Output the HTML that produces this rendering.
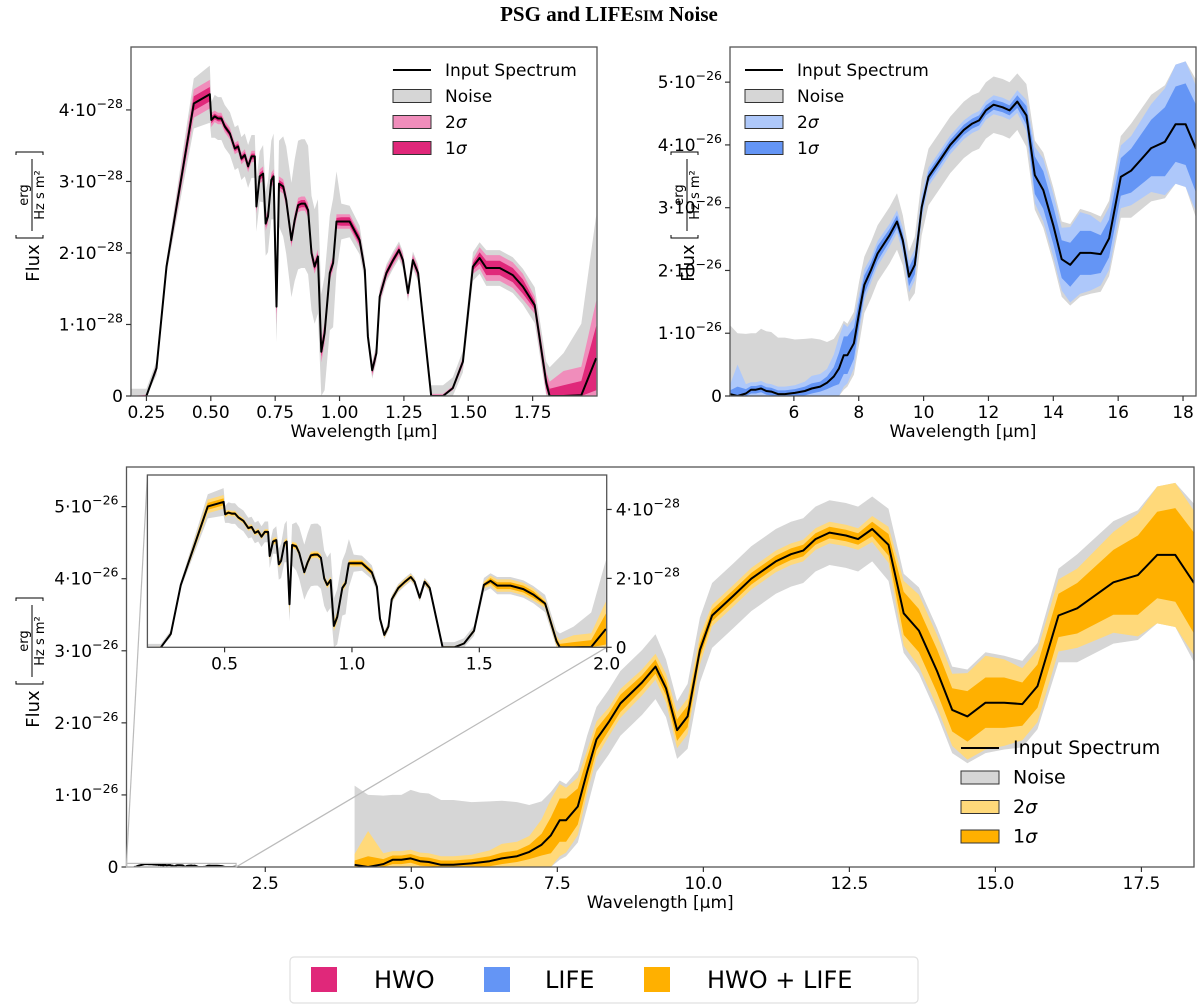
<!DOCTYPE html>
<html><head><meta charset="utf-8"><style>
html,body{margin:0;padding:0;background:#fff;}
svg{display:block;font-family:"DejaVu Sans","Liberation Sans",sans-serif;}
</style></head><body>
<svg id="fig" width="1200" height="1007" viewBox="0 0 1200 1007" xmlns="http://www.w3.org/2000/svg">
<text x="609" y="21" text-anchor="middle" font-family="Liberation Serif, serif" font-weight="bold" font-size="21">PSG and LIFE<tspan font-size="15.5">SIM</tspan> Noise</text>
<g id="legendBottom">
<rect x="290" y="957" width="628" height="46" rx="4" fill="#fff" stroke="#e0e0e0" stroke-width="1.2"/>
<rect x="311" y="967" width="26" height="25" fill="#e0287a"/>
<text x="374" y="988" font-size="24">HWO</text>
<rect x="484" y="967" width="26" height="25" fill="#6495f5"/>
<text x="545" y="988" font-size="24">LIFE</text>
<rect x="644" y="967" width="26" height="25" fill="#ffb000"/>
<text x="707" y="988" font-size="24">HWO + LIFE</text>
</g>
</svg>
<script>
// HWO spectrum (flux in 1e-28 erg/Hz/s/m2)
const hwoWl=[0.19,0.250,0.289,0.328,0.434,0.496,0.502,0.515,0.528,0.541,0.554,0.574,0.593,0.606,0.619,0.632,0.645,0.658,0.671,0.677,0.690,0.703,0.713,0.722,0.735,0.744,0.755,0.765,0.781,0.793,0.813,0.826,0.839,0.852,0.865,0.878,0.891,0.903,0.916,0.929,0.942,0.962,0.975,0.988,1.007,1.039,1.078,1.098,1.110,1.127,1.143,1.156,1.182,1.208,1.231,1.246,1.266,1.285,1.305,1.356,1.402,1.440,1.479,1.518,1.544,1.570,1.622,1.673,1.712,1.758,1.803,1.816,1.87,1.939,1.997];
const hwoFlux=[0,0,0.39,1.81,4.09,4.22,3.86,3.91,3.88,3.88,3.77,3.67,3.46,3.49,3.32,3.37,3.21,3.35,3.35,2.65,3.07,3.11,2.41,2.51,3.02,3.07,1.25,2.97,2.93,2.74,2.18,2.46,2.67,2.69,2.69,2.60,2.00,1.81,1.95,0.62,0.88,1.72,1.86,2.44,2.44,2.44,2.18,1.76,0.83,0.36,0.60,1.39,1.72,1.90,2.04,1.90,1.44,1.90,1.72,0,0,0.11,0.48,1.81,1.93,1.79,1.79,1.69,1.53,1.27,0.18,0,0,0.01,0.53];
const hwoNoise=[0.1,0.1,0.1,0.1,0.35,0.4,0.25,0.3,0.3,0.3,0.3,0.3,0.3,0.3,0.3,0.3,0.3,0.3,0.3,0.35,0.35,0.4,0.45,0.5,0.55,0.6,0.5,0.6,0.7,0.75,0.8,0.85,0.9,0.9,0.9,0.9,0.8,0.8,0.8,0.8,0.8,0.8,0.9,0.7,0.25,0.22,0.2,0.15,0.12,0.12,0.12,0.12,0.12,0.12,0.12,0.12,0.12,0.12,0.12,0.15,0.15,0.15,0.15,0.2,0.22,0.25,0.25,0.25,0.25,0.25,0.3,0.4,0.6,1.0,2.0];
const hwoSig2=[0,0.02,0.05,0.06,0.2,0.2,0.1,0.08,0.08,0.08,0.08,0.08,0.08,0.08,0.08,0.08,0.08,0.08,0.08,0.1,0.1,0.1,0.1,0.1,0.1,0.1,0.25,0.1,0.1,0.1,0.1,0.1,0.1,0.1,0.1,0.1,0.1,0.1,0.1,0.15,0.15,0.1,0.1,0.1,0.1,0.1,0.1,0.08,0.08,0.08,0.08,0.08,0.08,0.08,0.08,0.08,0.08,0.08,0.08,0.03,0.03,0.03,0.06,0.1,0.15,0.18,0.18,0.18,0.18,0.12,0.15,0.2,0.35,0.4,0.8];
const hwoSig1=[0,0.01,0.03,0.03,0.1,0.1,0.05,0.04,0.04,0.04,0.04,0.04,0.04,0.04,0.04,0.04,0.04,0.04,0.04,0.05,0.05,0.05,0.05,0.05,0.05,0.05,0.1,0.05,0.05,0.05,0.05,0.05,0.05,0.05,0.05,0.05,0.05,0.05,0.05,0.07,0.07,0.05,0.05,0.05,0.06,0.06,0.06,0.04,0.04,0.04,0.04,0.04,0.04,0.04,0.04,0.04,0.04,0.04,0.04,0.01,0.01,0.01,0.03,0.05,0.08,0.1,0.1,0.1,0.1,0.06,0.08,0.1,0.15,0.2,0.45];
// LIFE spectrum (flux in 1e-26 erg/Hz/s/m2)
const lifeWl=[4.03,4.26,4.52,4.68,4.83,4.99,5.15,5.30,5.51,5.72,6.03,6.34,6.55,6.81,7.02,7.23,7.39,7.54,7.65,7.85,8.01,8.17,8.38,8.58,8.95,9.18,9.36,9.55,9.73,9.94,10.15,10.51,10.82,11.24,11.5,11.71,11.92,12.16,12.44,12.65,12.89,13.17,13.43,13.69,14.0,14.26,14.52,14.83,15.15,15.46,15.72,16.08,16.4,17.02,17.44,17.77,18.08,18.4];
const lifeFlux=[0.03,0,0.04,0.1,0.1,0.12,0.08,0.07,0.03,0.03,0.05,0.08,0.12,0.15,0.21,0.31,0.44,0.65,0.65,0.84,1.32,1.77,2.01,2.27,2.56,2.78,2.48,1.90,2.09,3.01,3.49,3.76,4.0,4.24,4.34,4.39,4.55,4.64,4.60,4.55,4.69,4.47,3.52,3.28,2.72,2.18,2.09,2.28,2.28,2.26,2.51,3.49,3.59,3.95,4.05,4.33,4.33,3.94];
const lifeNoise=[1.1,1.0,0.95,0.9,0.9,0.95,0.95,0.95,0.9,0.9,0.85,0.83,0.8,0.75,0.65,0.6,0.6,0.55,0.5,0.5,0.5,0.45,0.45,0.45,0.45,0.45,0.4,0.4,0.45,0.45,0.45,0.45,0.45,0.45,0.45,0.45,0.45,0.45,0.45,0.45,0.45,0.5,0.55,0.6,0.6,0.6,0.65,0.7,0.65,0.6,0.6,0.65,0.75,0.85,0.9,0.95,1.0,1.1];
const lifeSig2=[0.15,0.5,0.15,0.12,0.12,0.12,0.12,0.12,0.12,0.12,0.12,0.15,0.2,0.2,0.22,0.35,0.5,0.5,0.45,0.4,0.3,0.25,0.2,0.2,0.18,0.18,0.2,0.25,0.25,0.2,0.15,0.15,0.15,0.15,0.15,0.15,0.15,0.15,0.15,0.15,0.18,0.25,0.45,0.5,0.5,0.5,0.6,0.65,0.6,0.5,0.5,0.5,0.55,0.7,0.85,0.95,1.0,1.0];
const lifeSig1=[0.06,0.15,0.07,0.06,0.06,0.06,0.06,0.06,0.06,0.06,0.06,0.07,0.08,0.08,0.1,0.15,0.25,0.3,0.3,0.25,0.2,0.15,0.12,0.12,0.1,0.1,0.1,0.15,0.15,0.1,0.08,0.08,0.08,0.08,0.08,0.08,0.08,0.08,0.08,0.08,0.1,0.15,0.3,0.3,0.3,0.3,0.35,0.35,0.35,0.3,0.3,0.3,0.35,0.45,0.55,0.6,0.65,0.7];
// Ticks
const tlXTicks=[0.25,0.50,0.75,1.00,1.25,1.50,1.75];
const tlYTicks=[0,1,2,3,4];
const trXTicks=[6,8,10,12,14,16,18];
const trYTicks=[0,1,2,3,4,5];
const btXTicks=[2.5,5.0,7.5,10.0,12.5,15.0,17.5];
const btYTicks=[0,1,2,3,4,5];
const inXTicks=[0.5,1.0,1.5,2.0];
const inYTicks=[0,2,4];

const NS="http://www.w3.org/2000/svg";
const svg=document.getElementById('fig');
const legendNode=document.getElementById('legendBottom');
function mk(tag,attrs,parent){const e=document.createElementNS(NS,tag);for(const k in attrs)e.setAttribute(k,attrs[k]);(parent||svg).insertBefore(e,parent?null:legendNode);return e;}
function axes(name,px0,px1,py0,py1,xmin,xmax,ymin,ymax){
  const a={px0,px1,py0,py1,xmin,xmax,ymin,ymax,name};
  a.x=v=>px0+(v-xmin)/(xmax-xmin)*(px1-px0);
  a.y=v=>py0-(v-ymin)/(ymax-ymin)*(py0-py1);
  const cp=mk('clipPath',{id:'clip-'+name});
  mk('rect',{x:px0,y:py1,width:px1-px0,height:py0-py1},cp);
  a.g=mk('g',{'clip-path':'url(#clip-'+name+')'});
  
  
  return a;
}
function band(a,wl,fl,w,scale,color,name){
  let up=[],lo=[];
  for(let i=0;i<wl.length;i++){
    up.push(a.x(wl[i]).toFixed(1)+','+a.y((fl[i]+w[i])*scale).toFixed(1));
    lo.push(a.x(wl[i]).toFixed(1)+','+a.y(Math.max(0,fl[i]-w[i])*scale).toFixed(1));
  }
  const p=mk('polygon',{points:up.concat(lo.reverse()).join(' '),fill:color,stroke:'none'},a.g);
  
  
}
function line(a,wl,fl,scale,name,startIdx){
  let pts=[];
  for(let i=startIdx||0;i<wl.length;i++)pts.push(a.x(wl[i]).toFixed(1)+','+a.y(fl[i]*scale).toFixed(1));
  const p=mk('polyline',{points:pts.join(' '),fill:'none',stroke:'#000','stroke-width':2,'stroke-linejoin':'round'},a.g);
  
  
}
function frame(a){
  const r=mk('rect',{x:a.px0,y:a.py1,width:a.px1-a.px0,height:a.py0-a.py1,fill:'none',stroke:'#555','stroke-width':1.3});
  
  
}
function sciLabel(x,y,m,exp,anchor,name){
  const t=mk('text',{x:x,y:y,'font-size':17,'text-anchor':anchor});
  
  
  if(m===0){t.textContent='0';return;}
  const s1=document.createElementNS(NS,'tspan');s1.textContent=m+'·10';t.appendChild(s1);
  const s2=document.createElementNS(NS,'tspan');s2.setAttribute('dy','-8');s2.setAttribute('font-size','12.5');s2.textContent='−'+exp;t.appendChild(s2);
}
function xTicks(a,ticks,dec,name){
  ticks.forEach(v=>{
    const X=a.x(v);
    const l=mk('line',{x1:X,x2:X,y1:a.py0,y2:a.py0+5,stroke:'#333','stroke-width':1.2});
    
    
    const t=mk('text',{x:X,y:a.py0+22,'font-size':17,'text-anchor':'middle'});
    
    
    t.textContent=v.toFixed(dec);
  });
}
function yTicks(a,ticks,exp,name,right){
  ticks.forEach(v=>{
    const Y=a.y(v);
    const X=right?a.px1:a.px0;
    const l=mk('line',{x1:X,x2:right?X+5:X-5,y1:Y,y2:Y,stroke:'#333','stroke-width':1.2});
    
    
    sciLabel(right?X+9:X-8,Y+6,v,exp,right?'start':'end',name+'-tick-label');
  });
}
function fluxLabel(cx,cy,name){
  const g=mk('g',{transform:'translate('+cx+','+cy+') rotate(-90)'});
  
  
  const t=mk('text',{x:-42,y:6,'font-size':18,'text-anchor':'middle'},g);t.textContent='Flux';
  mk('path',{d:'M-14,-17 h-3 v27 h3 M66,-17 h3 v27 h-3',fill:'none',stroke:'#000','stroke-width':1},g);
  const t2=mk('text',{x:26,y:-5,'font-size':13,'text-anchor':'middle'},g);t2.textContent='erg';
  mk('line',{x1:-10,x2:62,y1:-1,y2:-1,stroke:'#000','stroke-width':1},g);
  const t3=mk('text',{x:26,y:11,'font-size':13,'text-anchor':'middle'},g);t3.textContent='Hz s m²';
}
function xLabel(a,name){
  const t=mk('text',{x:(a.px0+a.px1)/2,y:a.py0+41,'font-size':17,'text-anchor':'middle'});
  
  
  t.textContent='Wavelength [µm]';
}
function legend(x,y,dy,fs,c2,c1,name){
  const g=mk('g',{});
  
  
  mk('line',{x1:x,x2:x+38,y1:y,y2:y,stroke:'#000','stroke-width':2},g);
  const cols=['#d6d6d6',c2,c1],labs=['Noise','2σ','1σ'];
  const t0=mk('text',{x:x+52,y:y+6,'font-size':fs},g);t0.textContent='Input Spectrum';
  for(let i=0;i<3;i++){
    const yy=y+dy*(i+1);
    mk('rect',{x:x,y:yy-6.5,width:38,height:13,fill:cols[i],stroke:'#333','stroke-width':1},g);
    const t=mk('text',{x:x+52,y:yy+6,'font-size':fs},g);
    if(i===0)t.textContent=labs[i];
    else{const a=document.createElementNS(NS,'tspan');a.textContent=labs[i][0];t.appendChild(a);const b=document.createElementNS(NS,'tspan');b.setAttribute('font-style','italic');b.textContent='σ';t.appendChild(b);}
  }
}

// Top-left: HWO
const tl=axes('hwo-chart',131,597,396,47,0.19,2.0,0,4.88);
band(tl,hwoWl,hwoFlux,hwoNoise,1,'#d6d6d6','hwo-noise-band');
band(tl,hwoWl,hwoFlux,hwoSig2,1,'#f08dbb','hwo-2sigma-band');
band(tl,hwoWl,hwoFlux,hwoSig1,1,'#e0287a','hwo-1sigma-band');
line(tl,hwoWl,hwoFlux,1,'hwo-input-spectrum',1);
frame(tl);xTicks(tl,tlXTicks,2,'hwo-x');yTicks(tl,tlYTicks,28,'hwo-y');
xLabel(tl,'hwo-x-axis-title');fluxLabel(33,221,'hwo-y-axis-title');
legend(393,70,26,17,'#f08dbb','#e0287a','hwo-legend');

// Top-right: LIFE
const tr=axes('life-chart',730,1196,396,47,4.03,18.4,0,5.56);
band(tr,lifeWl,lifeFlux,lifeNoise,1,'#d6d6d6','life-noise-band');
band(tr,lifeWl,lifeFlux,lifeSig2,1,'#aec8fa','life-2sigma-band');
band(tr,lifeWl,lifeFlux,lifeSig1,1,'#6495f5','life-1sigma-band');
line(tr,lifeWl,lifeFlux,1,'life-input-spectrum');
frame(tr);xTicks(tr,trXTicks,0,'life-x');yTicks(tr,trYTicks,26,'life-y');
xLabel(tr,'life-x-axis-title');fluxLabel(688,221,'life-y-axis-title');
legend(745,70,26,17,'#aec8fa','#6495f5','life-legend');

// Bottom: combined
const bt=axes('combined-chart',126.5,1194,867,467,0.124,18.4,0,5.55);
band(bt,lifeWl,lifeFlux,lifeNoise,1,'#d6d6d6','combined-noise-band');
band(bt,lifeWl,lifeFlux,lifeSig2,1,'#ffd97a','combined-2sigma-band');
band(bt,lifeWl,lifeFlux,lifeSig1,1,'#ffb000','combined-1sigma-band');
band(bt,hwoWl,hwoFlux,hwoNoise,0.01,'#d6d6d6','combined-hwo-noise-band');
line(bt,lifeWl,lifeFlux,1,'combined-life-spectrum');
line(bt,hwoWl,hwoFlux,0.01,'combined-hwo-spectrum',1);
frame(bt);xTicks(bt,btXTicks,1,'combined-x');yTicks(bt,btYTicks,26,'combined-y');
xLabel(bt,'combined-x-axis-title');fluxLabel(33,667,'combined-y-axis-title');

// zoom box + connectors
const zb=mk('rect',{x:bt.x(0.124),y:bt.y(0.05),width:bt.x(2.0)-bt.x(0.124),height:bt.y(0)-bt.y(0.05),fill:'none',stroke:'#bbb','stroke-width':1.2});


const c1=mk('line',{x1:bt.x(0.124),y1:bt.y(0.05),x2:147.4,y2:475,stroke:'#bbb','stroke-width':1.2});


const c2=mk('line',{x1:bt.x(2.0),y1:bt.y(0),x2:606.7,y2:647.3,stroke:'#bbb','stroke-width':1.2});



// Inset
const inBg=mk('rect',{x:147.4,y:475,width:459.3,height:172.3,fill:'#fff'});


const ins=axes('inset-chart',147.4,606.7,647.3,475,0.197,2.0,0,5.0);
band(ins,hwoWl,hwoFlux,hwoNoise,1,'#d6d6d6','inset-noise-band');
band(ins,hwoWl,hwoFlux,hwoSig2,1,'#ffd97a','inset-2sigma-band');
band(ins,hwoWl,hwoFlux,hwoSig1,1,'#ffb000','inset-1sigma-band');
line(ins,hwoWl,hwoFlux,1,'inset-input-spectrum',1);
frame(ins);xTicks(ins,inXTicks,1,'inset-x');yTicks(ins,inYTicks,28,'inset-y',true);

legend(961,748,29.5,19,'#ffd97a','#ffb000','combined-legend');
</script>
</body></html>
